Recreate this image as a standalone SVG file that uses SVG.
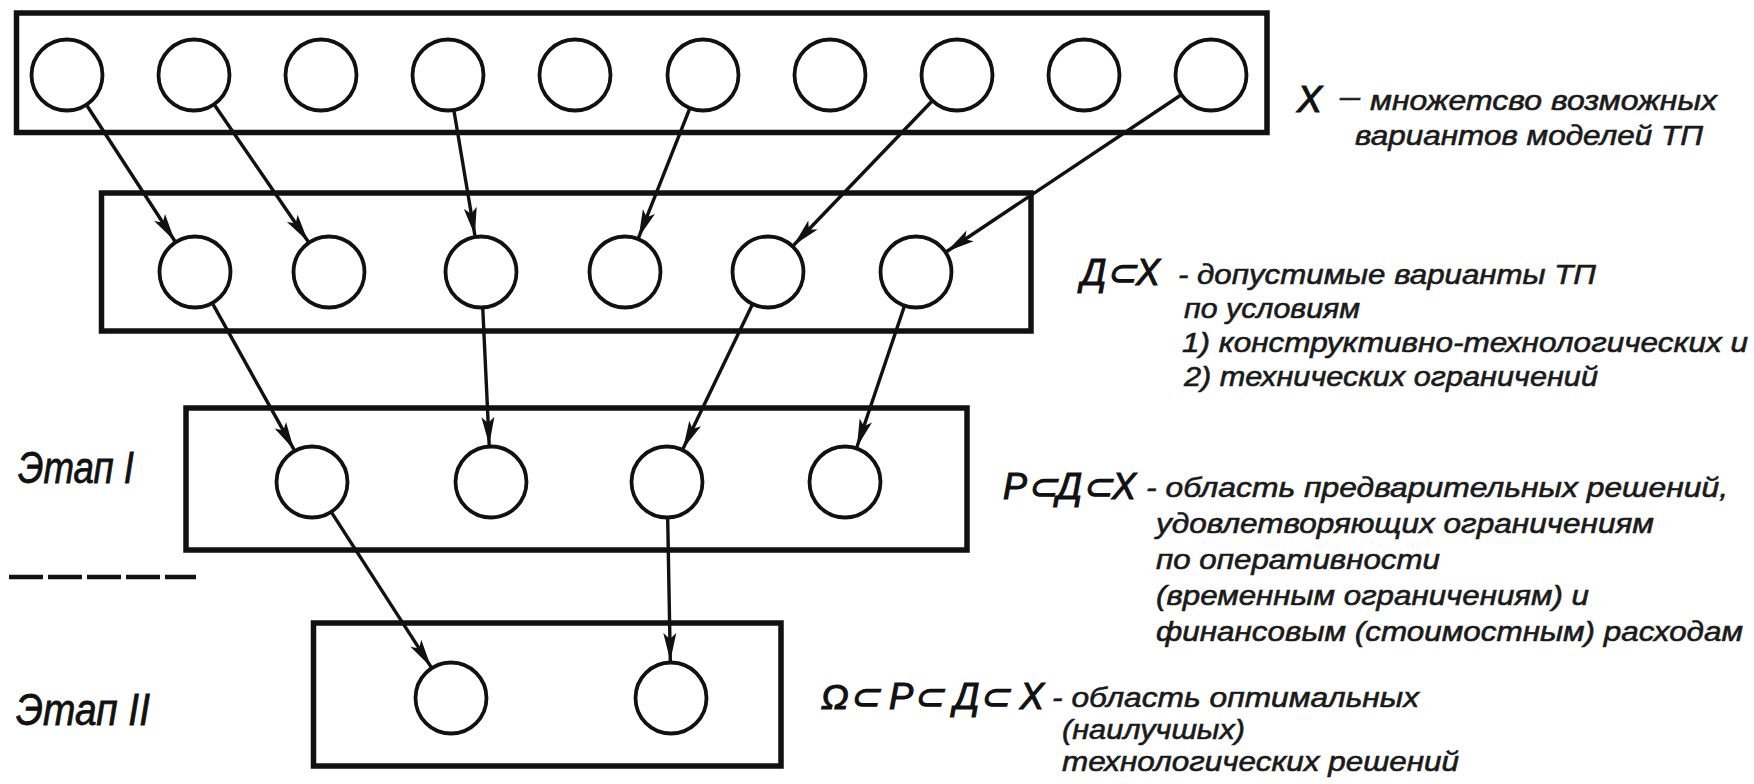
<svg xmlns="http://www.w3.org/2000/svg" width="1754" height="784" viewBox="0 0 1754 784">
  <defs>
    <style>
      .box { fill: none; stroke: #111; stroke-width: 5.5; }
      .node { fill: #fff; stroke: #111; stroke-width: 3.8; }
      .link { fill: none; stroke: #111; stroke-width: 3.4; marker-end: url(#arrow); }
      .txt { font-family: "Liberation Sans", Arial, sans-serif; font-style: italic; font-size: 28px; fill: #1a1a1a; stroke: #1a1a1a; stroke-width: 0.6; }
      .sym { font-family: "Liberation Sans", Arial, sans-serif; font-style: italic; font-size: 36px; fill: #111; stroke: #111; stroke-width: 1.1; }
      .stage { font-family: "Liberation Sans", Arial, sans-serif; font-style: italic; font-size: 44px; fill: #111; stroke: #111; stroke-width: 0.8; }
      .sep { stroke: #111; stroke-width: 4.5; stroke-dasharray: 34 5; }
    </style>
    <marker id="arrow" markerUnits="userSpaceOnUse" viewBox="-30 -8 32 16" refX="0" refY="0" markerWidth="32" markerHeight="16" orient="auto">
      <path d="M0,0 L-28,-6.5 L-22,0 L-28,6.5 Z" fill="#111"/>
    </marker>
  </defs>

  <rect width="1754" height="784" fill="#fff"/>

  <!-- X: set of possible process model variants -->
  <g id="set-x">
    <rect class="box" x="16.5" y="13" width="1250.5" height="119.5"/>
    <circle id="x1" class="node" cx="67" cy="75" r="35.5"/>
    <circle id="x2" class="node" cx="194" cy="75" r="35.5"/>
    <circle id="x3" class="node" cx="321" cy="75" r="35.5"/>
    <circle id="x4" class="node" cx="448" cy="75" r="35.5"/>
    <circle id="x5" class="node" cx="575" cy="75" r="35.5"/>
    <circle id="x6" class="node" cx="703" cy="75" r="35.5"/>
    <circle id="x7" class="node" cx="830" cy="75" r="35.5"/>
    <circle id="x8" class="node" cx="957" cy="75" r="35.5"/>
    <circle id="x9" class="node" cx="1084" cy="75" r="35.5"/>
    <circle id="x10" class="node" cx="1211" cy="75" r="35.5"/>
  </g>

  <!-- D: admissible variants -->
  <g id="set-d">
    <rect class="box" x="101.5" y="193" width="929.5" height="138"/>
    <circle id="d1" class="node" cx="195" cy="272" r="35.5"/>
    <circle id="d2" class="node" cx="329" cy="272" r="35.5"/>
    <circle id="d3" class="node" cx="481" cy="272" r="35.5"/>
    <circle id="d4" class="node" cx="625" cy="272" r="35.5"/>
    <circle id="d5" class="node" cx="768" cy="272" r="35.5"/>
    <circle id="d6" class="node" cx="916" cy="272" r="35.5"/>
  </g>

  <!-- P: preliminary solutions -->
  <g id="set-p">
    <rect class="box" x="186" y="408" width="781" height="142"/>
    <circle id="p1" class="node" cx="312" cy="482" r="35.5"/>
    <circle id="p2" class="node" cx="491" cy="482" r="35.5"/>
    <circle id="p3" class="node" cx="667" cy="482" r="35.5"/>
    <circle id="p4" class="node" cx="845" cy="482" r="35.5"/>
  </g>

  <!-- Omega: optimal solutions -->
  <g id="set-omega">
    <rect class="box" x="313.5" y="623" width="467.5" height="143"/>
    <circle id="o1" class="node" cx="451" cy="698" r="35.5"/>
    <circle id="o2" class="node" cx="671" cy="698" r="35.5"/>
  </g>

  <!-- connectors between levels -->
  <g id="connectors">
    <path class="link" d="M87.2,106 L174.8,241"/>
    <path class="link" d="M214.9,105.5 L308.1,241.5"/>
    <path class="link" d="M454.1,111.5 L474.9,235.5"/>
    <path class="link" d="M689.4,109.4 L638.6,237.6"/>
    <path class="link" d="M931.4,101.7 L793.6,245.3"/>
    <path class="link" d="M1180.2,95.5 L946.8,251.5"/>
    <path class="link" d="M213,304.3 L294,449.7"/>
    <path class="link" d="M482.8,309 L489.2,445"/>
    <path class="link" d="M752,305.3 L683,448.7"/>
    <path class="link" d="M904.1,307 L856.9,447"/>
    <path class="link" d="M332,513.1 L431,666.9"/>
    <path class="link" d="M667.7,519 L670.3,661"/>
  </g>

  <!-- stage labels and separator -->
  <g id="stages">
    <text class="stage" x="18" y="483" textLength="116" lengthAdjust="spacingAndGlyphs">Этап I</text>
    <line class="sep" x1="9" y1="577" x2="196" y2="577"/>
    <text class="stage" x="16" y="725" textLength="134" lengthAdjust="spacingAndGlyphs">Этап II</text>
  </g>

  <!-- set descriptions -->
  <g id="legend-x">
    <text class="sym" x="1297" y="112" font-size="40" textLength="25" lengthAdjust="spacingAndGlyphs">Х</text>
    <text class="txt" x="1340" y="106" textLength="20" lengthAdjust="spacingAndGlyphs">–</text>
    <text class="txt" x="1370" y="110" textLength="347" lengthAdjust="spacingAndGlyphs">множетсво  возможных</text>
    <text class="txt" x="1355" y="145" textLength="348" lengthAdjust="spacingAndGlyphs">вариантов моделей ТП</text>
  </g>

  <g id="legend-d">
    <text class="sym" x="1081" y="285" textLength="79" lengthAdjust="spacingAndGlyphs">Д⊂Х</text>
    <text class="txt" x="1178" y="284" textLength="418" lengthAdjust="spacingAndGlyphs">- допустимые варианты ТП</text>
    <text class="txt" x="1184" y="318" textLength="176" lengthAdjust="spacingAndGlyphs">по условиям</text>
    <text class="txt" x="1182" y="352" textLength="566" lengthAdjust="spacingAndGlyphs">1) конструктивно-технологических и</text>
    <text class="txt" x="1184" y="386" textLength="414" lengthAdjust="spacingAndGlyphs">2) технических ограничений</text>
  </g>

  <g id="legend-p">
    <text class="sym" x="1003" y="499" textLength="133" lengthAdjust="spacingAndGlyphs">Р⊂Д⊂Х</text>
    <text class="txt" x="1146" y="497" textLength="582" lengthAdjust="spacingAndGlyphs">- область предварительных решений,</text>
    <text class="txt" x="1156" y="533" textLength="498" lengthAdjust="spacingAndGlyphs">удовлетворяющих ограничениям</text>
    <text class="txt" x="1156" y="569" textLength="284" lengthAdjust="spacingAndGlyphs">по оперативности</text>
    <text class="txt" x="1156" y="605" textLength="433" lengthAdjust="spacingAndGlyphs">(временным ограничениям) и</text>
    <text class="txt" x="1156" y="641" textLength="587" lengthAdjust="spacingAndGlyphs">финансовым (стоимостным) расходам</text>
  </g>

  <g id="legend-omega">
    <text class="sym" x="821" y="709" textLength="223" lengthAdjust="spacingAndGlyphs">Ω⊂ Р⊂ Д⊂ Х</text>
    <text class="txt" x="1052" y="707" textLength="367" lengthAdjust="spacingAndGlyphs">- область оптимальных</text>
    <text class="txt" x="1062" y="739" textLength="183" lengthAdjust="spacingAndGlyphs">(наилучшых)</text>
    <text class="txt" x="1062" y="771" textLength="397" lengthAdjust="spacingAndGlyphs">технологических решений</text>
  </g>
</svg>
